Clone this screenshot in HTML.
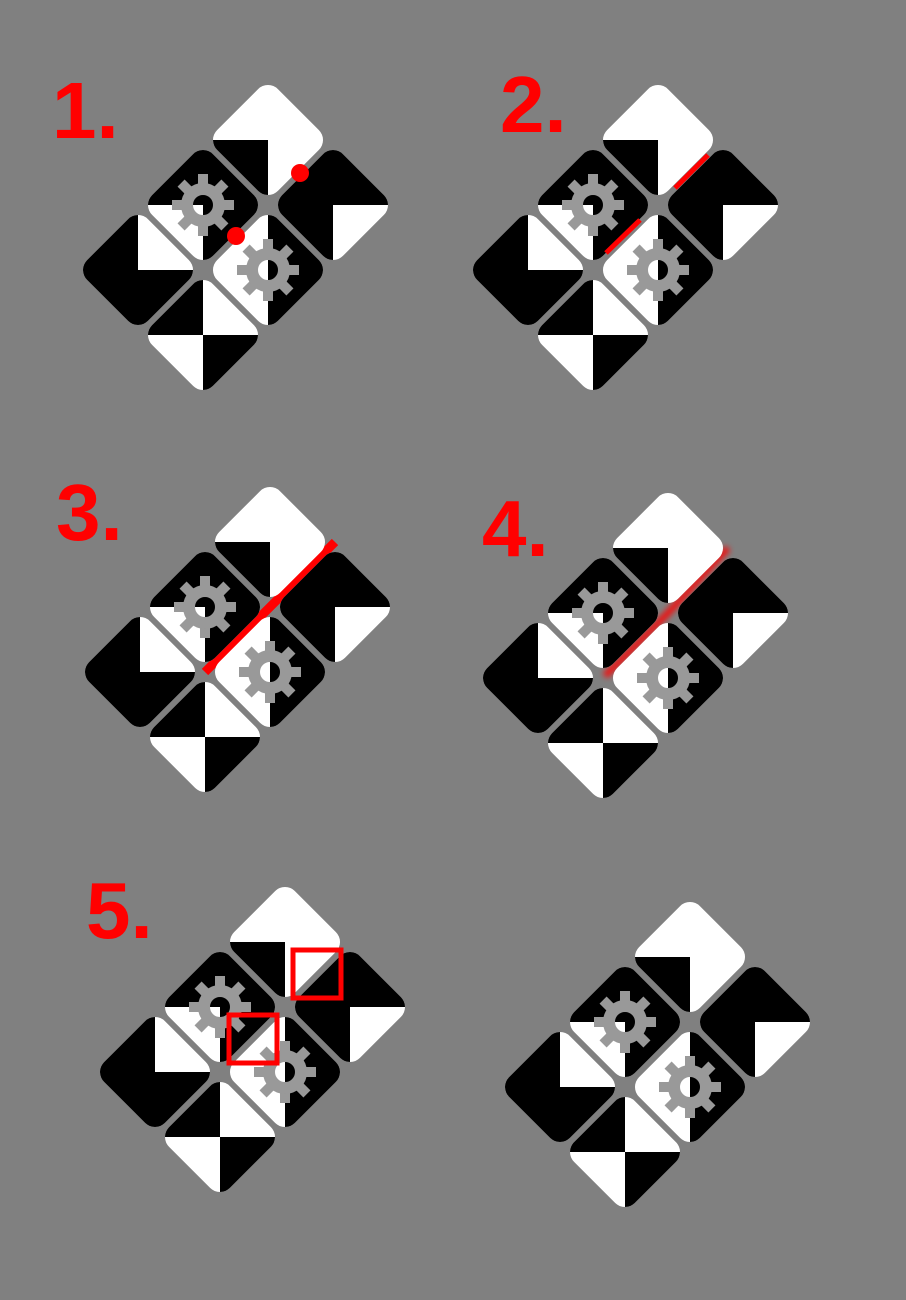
<!DOCTYPE html>
<html><head><meta charset="utf-8"><style>
html,body{margin:0;padding:0;background:#808080;}
svg{display:block}
text{font-family:"Liberation Sans",sans-serif;font-weight:bold;fill:#ff0000;}
</style></head><body>
<svg id="s" width="906" height="1300" viewBox="0 0 906 1300">
<defs>
<clipPath id="tc"><rect x="-43" y="-43" width="86" height="86" rx="14" transform="rotate(45)"/></clipPath>
<filter id="blur"><feGaussianBlur stdDeviation="3"/></filter>
</defs>
<rect width="906" height="1300" fill="#808080"/>
<g id="under"></g>
<g id="panels"></g>
<g id="over"></g>
<text x="52" y="138" font-size="80">1.</text>
<text x="500" y="132" font-size="80">2.</text>
<text x="56" y="540" font-size="80">3.</text>
<text x="482" y="556" font-size="80">4.</text>
<text x="86" y="938" font-size="80">5.</text>
</svg>
<script>
const NS='http://www.w3.org/2000/svg';
const panelCenters=[[268,140],[658,140],[270,542],[668,548],[285,942],[690,957]];
const tiles=[
 {dx:0,dy:0,q:[0,0,1,0],gear:false,name:'top-tile'},
 {dx:1,dy:1,q:[1,1,1,0],gear:false,name:'right-tile'},
 {dx:-1,dy:1,q:[1,1,0,1],gear:true,name:'left-gear-tile'},
 {dx:0,dy:2,q:[0,1,0,1],gear:true,name:'center-gear-tile'},
 {dx:-2,dy:2,q:[1,0,1,1],gear:false,name:'left-tile'},
 {dx:-1,dy:3,q:[1,0,0,1],gear:false,name:'bottom-tile'}
];
function mk(tag,attrs,parent){const e=document.createElementNS(NS,tag);for(const k in attrs)e.setAttribute(k,attrs[k]);parent.appendChild(e);return e;}
const P=document.getElementById('panels');
panelCenters.forEach((pc,pi)=>{
  const pg=mk('g',{},P);
  
  
  tiles.forEach(t=>{
    const cx=pc[0]+t.dx*65, cy=pc[1]+t.dy*65;
    const g=mk('g',{transform:`translate(${cx},${cy})`},pg);
    
    
    const c=mk('g',{'clip-path':'url(#tc)'},g);
    mk('rect',{x:-62,y:-62,width:124,height:124,fill:'#fff'},c);
    const qs=[[-62,-62],[0,-62],[-62,0],[0,0]];
    t.q.forEach((b,i)=>{if(b)mk('rect',{x:qs[i][0],y:qs[i][1],width:62,height:62,fill:'#000'},c);});
    if(t.gear){
      const gg=mk('g',{},g);
      
      
      for(let k=0;k<8;k++){mk('rect',{x:-5,y:-31,width:10,height:14,fill:'#999',transform:`rotate(${k*45})`},gg);}
      mk('circle',{cx:0,cy:0,r:16,fill:'none',stroke:'#999','stroke-width':12},gg);
    }
  });
});
const U=document.getElementById('under'), O=document.getElementById('over');
[[300,173],[236,236]].forEach(p=>{const e=mk('circle',{cx:p[0],cy:p[1],r:9,fill:'#f00'},O);});
[[675,188,708,155],[606,253,640,220]].forEach(l=>{const e=mk('line',{x1:l[0],y1:l[1],x2:l[2],y2:l[3],stroke:'#f00','stroke-width':5},O);});
{const e=mk('polyline',{points:'335,542 270,607 205,672',fill:'none',stroke:'#f00','stroke-width':9},U);}
{const e=mk('polyline',{points:'728,548 668,613 605,676',fill:'none',stroke:'#f00','stroke-width':7,filter:'url(#blur)',opacity:0.85},U);}
[[293,950],[229,1015]].forEach(p=>{const e=mk('rect',{x:p[0],y:p[1],width:48,height:48,fill:'none',stroke:'#f00','stroke-width':5},O);});
</script>
</body></html>
